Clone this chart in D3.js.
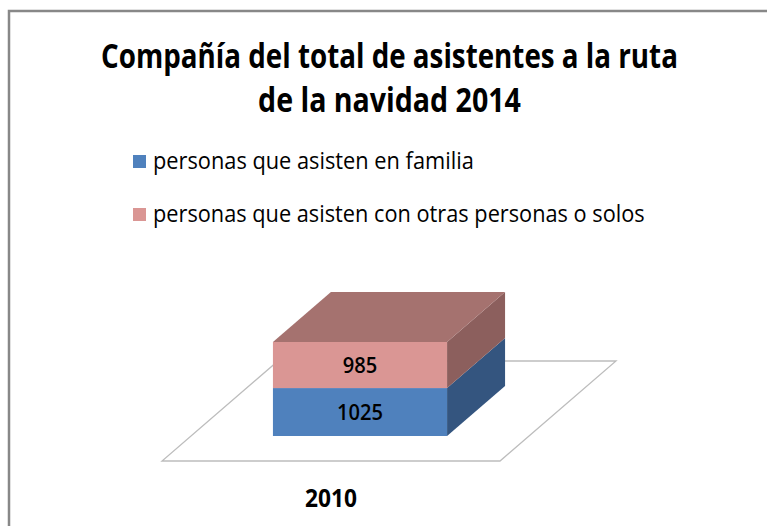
<!DOCTYPE html>
<html>
<head>
<meta charset="utf-8">
<script src="https://d3js.org/d3.v7.min.js"></script>
<style>
  body { margin: 0; background: #fff; }
  svg { display: block; }
  text { font-family: "Open Sans", sans-serif; fill: #000; }
</style>
</head>
<body>
<div id="chart"></div>
<script>
// Data
const categories = ["2010"];
const seriesNames = [
  "personas que asisten en familia",
  "personas que asisten con otras personas o solos"
];
const familia = [1025];
const otros = [985];
const titleLines = ["Compañía del total de asistentes a la ruta", "de la navidad 2014"];

const colors = [
  { front: "#4F81BD", side: "#34557F", top: "#6B8FC2" },
  { front: "#DA9694", side: "#8C5F5D", top: "#A5726F" }
];

const width = 767, height = 526;

const svg = d3.select("#chart").append("svg")
  .attr("width", width)
  .attr("height", height);

// squeeze a text horizontally so it spans `w` px, anchored at (cx, y)
function fit(sel, cx, y, w, anchor) {
  sel.each(function (d, i) {
    const t = d3.select(this);
    const n = this.getComputedTextLength();
    const tw = typeof w === "function" ? w(d, i) : w;
    const s = Math.min(1, tw / n);
    const px = typeof cx === "function" ? cx(d, i) : cx;
    const py = typeof y === "function" ? y(d, i) : y;
    t.attr("text-anchor", anchor || "middle")
      .attr("transform", `translate(${px},${py}) scale(${s},1)`);
  });
}

// outer frame (cut off on the right and bottom)
svg.append("path")
  .attr("d", "M9,526 L9,11 L767,11")
  .attr("fill", "none")
  .attr("stroke", "#888")
  .attr("stroke-width", 2.5);

// title
svg.selectAll(".title")
  .data(titleLines)
  .join("text")
  .attr("class", "title")
  .attr("font-size", 34)
  .attr("font-weight", "bold")
  .text(d => d)
  .call(fit, (d, i) => i === 0 ? 389.5 : 389.5, (d, i) => 68 + i * 44, (d, i) => i === 0 ? 577 : 263);

// legend
const legend = svg.selectAll(".legend")
  .data(seriesNames)
  .join("g")
  .attr("class", "legend")
  .attr("transform", (d, i) => `translate(133,${155 + i * 53})`);

legend.append("rect")
  .attr("width", 13)
  .attr("height", 13)
  .attr("fill", (d, i) => colors[i].front);

legend.append("text")
  .attr("font-size", 23)
  .text(d => d)
  .call(fit, 20, 14, (d, i) => i === 0 ? 321 : 492, "start");

// pseudo 3D setup
const floorY = 461;            // front edge of the floor
const depth = [116, -100];     // full depth vector of the floor
const x = d3.scaleBand().domain(categories).range([162, 500]).padding(0.32);
const stackData = categories.map((c, i) => ({ cat: c, familia: familia[i], otros: otros[i] }));
const stack = d3.stack().keys(["familia", "otros"])(stackData);
const maxTotal = d3.max(stackData, d => d.familia + d.otros);
const h = d3.scaleLinear().domain([0, maxTotal]).range([0, 94]);

const proj = (px, z, v) => [px + z * depth[0], floorY + z * depth[1] - h(v)];
const poly = pts => "M" + pts.map(p => p.join(",")).join("L") + "Z";

// floor
const x0 = x.range()[0], x1 = x.range()[1];
svg.append("path")
  .attr("d", poly([proj(x0, 0, 0), proj(x1, 0, 0), proj(x1, 1, 0), proj(x0, 1, 0)]))
  .attr("fill", "none")
  .attr("stroke", "#bdbdbd")
  .attr("stroke-width", 1.3);

const zF = 0.25, zB = 0.75;
const bars = svg.append("g");

stack.forEach((layer, si) => {
  layer.forEach(d => {
    const bx = x(d.data.cat), bw = x.bandwidth();
    const [lo, hi] = d;
    // right side
    bars.append("path")
      .attr("d", poly([proj(bx + bw, zF, lo), proj(bx + bw, zB, lo), proj(bx + bw, zB, hi), proj(bx + bw, zF, hi)]))
      .attr("fill", colors[si].side);
    // top (only visible on the last layer)
    if (si === stack.length - 1) {
      bars.append("path")
        .attr("d", poly([proj(bx, zF, hi), proj(bx + bw, zF, hi), proj(bx + bw, zB, hi), proj(bx, zB, hi)]))
        .attr("fill", colors[si].top);
    }
    // front
    const p0 = proj(bx, zF, hi), p1 = proj(bx + bw, zF, lo);
    bars.append("rect")
      .attr("x", p0[0])
      .attr("y", p0[1])
      .attr("width", p1[0] - p0[0])
      .attr("height", p1[1] - p0[1])
      .attr("fill", colors[si].front);
    // value label
    const mid = proj(bx + bw / 2, zF, (lo + hi) / 2);
    bars.append("text")
      .attr("font-size", 22)
      .attr("font-weight", 600)
      .text(hi - lo)
      .call(fit, mid[0], mid[1] + 8, String(hi - lo).length * 11.5);
  });
});

// category labels
svg.selectAll(".cat")
  .data(categories)
  .join("text")
  .attr("class", "cat")
  .attr("font-size", 25)
  .attr("font-weight", "bold")
  .text(d => d)
  .call(fit, d => x(d) + x.bandwidth() / 2, floorY + 46, 52);
</script>
</body>
</html>
